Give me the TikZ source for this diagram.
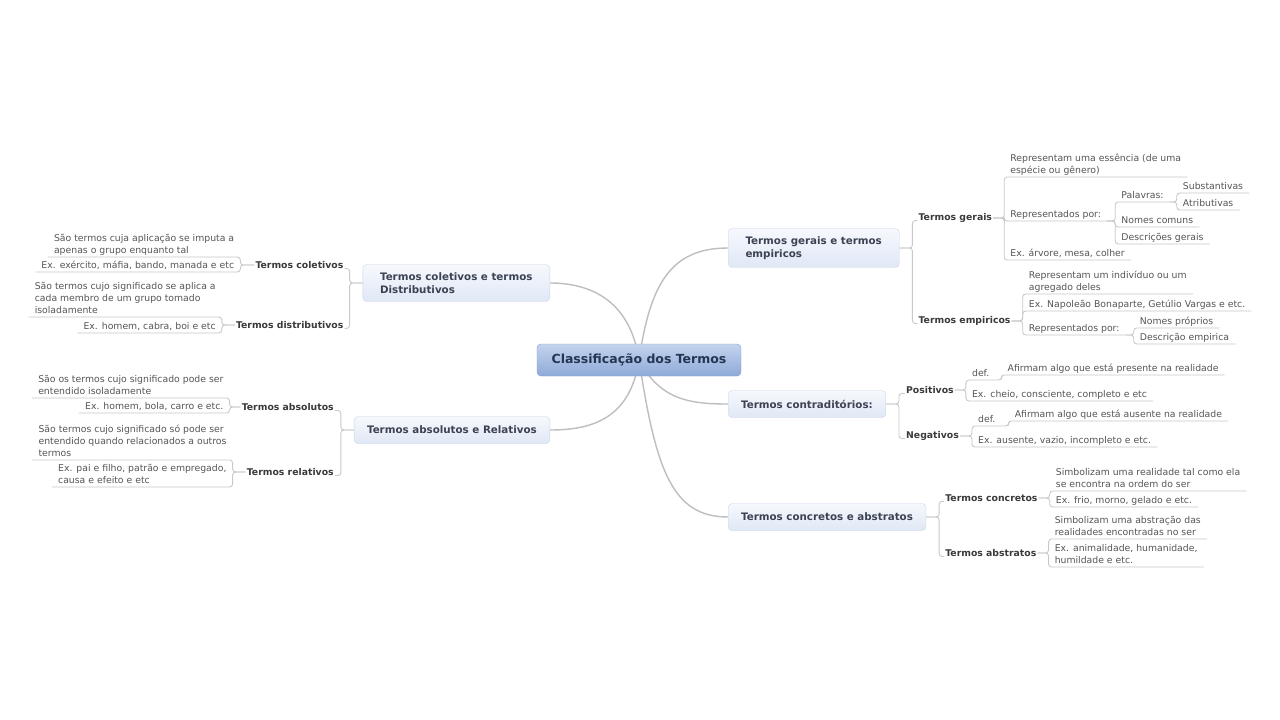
\documentclass[tikz,border=0pt]{standalone}
\usepackage{fontspec}
\setmainfont{DejaVu Sans}
\usepackage{tikz}
\usetikzlibrary{positioning, calc, backgrounds}
\definecolor{cvline}{HTML}{BEBEBE}
\definecolor{cnline}{HTML}{C9C9C9}
\definecolor{lftx}{HTML}{555555}
\definecolor{sbtx}{HTML}{3A3A3A}
\definecolor{mttx}{HTML}{3B4252}
\definecolor{mttop}{HTML}{F6F8FD}
\definecolor{mtbot}{HTML}{E0E8F6}
\definecolor{mtbd}{HTML}{C9D5EA}
\definecolor{roottop}{HTML}{C3D4EE}
\definecolor{rootbot}{HTML}{8EAAD8}
\definecolor{rootbd}{HTML}{86A0CC}
\definecolor{roottx}{HTML}{253552}
\newcommand{\rtfont}{\fontsize{12.5}{15}\selectfont\bfseries}
\newcommand{\mtfont}{\fontsize{10.3}{13}\selectfont\bfseries}
\newcommand{\sbfont}{\fontsize{9.3}{12}\selectfont\bfseries}
\newcommand{\lffont}{\fontsize{9.3}{12}\selectfont}
\tikzset{
  rootbox/.style={rectangle, rounded corners=4pt, draw=rootbd, top color=roottop, bottom color=rootbot, font=\rtfont, text=roottx, minimum width=204pt, minimum height=32pt},
  mt/.style ={rectangle, rounded corners=4pt, draw=mtbd, top color=mttop, bottom color=mtbot, font=\mtfont, text=mttx, align=left, inner xsep=13pt, inner ysep=8pt, minimum height=27pt},
  sb/.style ={font=\sbfont, text=sbtx, inner xsep=1pt, inner ysep=1pt},
  lf/.style ={font=\lffont, text=lftx, align=left, inner xsep=6pt, inner ysep=0pt, execute at end node=\strut},
  cv/.style ={draw=cvline, line width=1.4pt},
  cn/.style ={draw=cnline, line width=0.9pt, rounded corners=3pt},
}
\begin{document}
\begin{tikzpicture}[x=1pt, y=-1pt]
  \useasboundingbox (0,0) rectangle (1280,720);
  \node[rootbox] (root) at (639,360) {Classificação dos Termos};

  \node[mt, anchor=east, minimum width=187pt] (col) at (550,283) {Termos coletivos e termos\\Distributivos};
  \node[mt, anchor=east] (abs) at (550,430) {Termos absolutos e Relativos};
  \node[mt, anchor=west, minimum width=171pt] (ger) at (728,248) {Termos gerais e termos\\empiricos};
  \node[mt, anchor=west] (ctr) at (728,404) {Termos contraditórios:};
  \node[mt, anchor=west] (cnc) at (728,517) {Termos concretos e abstratos};

  \node[sb, anchor=east] (tcol) at ($(col.west)+(-18,-18)$) {Termos coletivos};
  \node[sb, anchor=east] (tdis) at ($(col.west)+(-18,42)$) {Termos distributivos};
  \node[sb, anchor=east] (tabs) at ($(abs.west)+(-19,-23)$) {Termos absolutos};
  \node[sb, anchor=east] (trel) at ($(abs.west)+(-19,42)$) {Termos relativos};
  \node[sb, anchor=west] (tger) at ($(ger.east)+(18,-30)$) {Termos gerais};
  \node[sb, anchor=west] (temp) at ($(ger.east)+(18,73)$) {Termos empiricos};
  \node[sb, anchor=west] (tpos) at ($(ctr.east)+(19,-14)$) {Positivos};
  \node[sb, anchor=west] (tneg) at ($(ctr.east)+(19,32)$) {Negativos};
  \node[sb, anchor=west] (tcon) at ($(cnc.east)+(18,-19)$) {Termos concretos};
  \node[sb, anchor=west] (tabt) at ($(cnc.east)+(18,36)$) {Termos abstratos};

  \node[lf, anchor=south east] (k1) at ($(tcol.west)+(-14,-8)$) {São termos cuja aplicação se imputa a\\apenas o grupo enquanto tal};
  \node[lf, anchor=south east] (k2) at ($(tcol.west)+(-14,7)$) {Ex. exército, máfia, bando, manada e etc};
  \node[lf, anchor=south east] (d1) at ($(tdis.west)+(-13,-8)$) {São termos cujo significado se aplica a\\cada membro de um grupo tomado\\isoladamente};
  \node[lf, anchor=south east] (d2) at ($(tdis.west)+(-13,8)$) {Ex. homem, cabra, boi e etc};
  \node[lf, anchor=south east] (b1) at ($(tabs.west)+(-11,-9)$) {São os termos cujo significado pode ser\\entendido isoladamente};
  \node[lf, anchor=south east] (b2) at ($(tabs.west)+(-11,6)$) {Ex. homem, bola, carro e etc.};
  \node[lf, anchor=south east] (r1) at ($(trel.west)+(-13,-12)$) {São termos cujo significado só pode ser\\entendido quando relacionados a outros\\termos};
  \node[lf, anchor=south east] (r2) at ($(trel.west)+(-13,15)$) {Ex. pai e filho, patrão e empregado,\\causa e efeito e etc};

  \node[lf, anchor=south west] (g1) at ($(tger.east)+(11,-41)$) {Representam uma essência (de uma\\espécie ou gênero)};
  \node[lf, anchor=south west] (g2) at ($(tger.east)+(11,3)$) {Representados por:};
  \node[lf, anchor=south west] (g3) at ($(tger.east)+(11,42)$) {Ex. árvore, mesa, colher};
  \node[lf, anchor=south west] (g21) at ($(g2.south east)+(8,-19)$) {Palavras:};
  \node[lf, anchor=south west] (g22) at ($(g2.south east)+(8,6)$) {Nomes comuns};
  \node[lf, anchor=south west] (g23) at ($(g2.south east)+(8,23)$) {Descrições gerais};
  \node[lf, anchor=south west] (g211) at ($(g21.south east)+(7,-9)$) {Substantivas};
  \node[lf, anchor=south west] (g212) at ($(g21.south east)+(7,8)$) {Atributivas};
  \node[lf, anchor=south west] (e1) at ($(temp.east)+(11,-27)$) {Representam um indivíduo ou um\\agregado deles};
  \node[lf, anchor=south west] (e2) at ($(temp.east)+(11,-10)$) {Ex. Napoleão Bonaparte, Getúlio Vargas e etc.};
  \node[lf, anchor=south west] (e3) at ($(temp.east)+(11,14)$) {Representados por:};
  \node[lf, anchor=south west] (e31) at ($(e3.south east)+(8,-7)$) {Nomes próprios};
  \node[lf, anchor=south west] (e32) at ($(e3.south east)+(8,9)$) {Descrição empirica};
  \node[lf, anchor=south west] (p1) at ($(tpos.east)+(11,-10)$) {def.};
  \node[lf, anchor=south west] (p11) at ($(p1.south east)+(6,-5)$) {Afirmam algo que está presente na realidade};
  \node[lf, anchor=south west] (p2) at ($(tpos.east)+(11,11)$) {Ex. cheio, consciente, completo e etc};
  \node[lf, anchor=south west] (n1) at ($(tneg.east)+(12,-10)$) {def.};
  \node[lf, anchor=south west] (n11) at ($(n1.south east)+(7,-5)$) {Afirmam algo que está ausente na realidade};
  \node[lf, anchor=south west] (n2) at ($(tneg.east)+(12,11)$) {Ex. ausente, vazio, incompleto e etc.};
  \node[lf, anchor=south west] (c1) at ($(tcon.east)+(11,-7)$) {Simbolizam uma realidade tal como ela\\se encontra na ordem do ser};
  \node[lf, anchor=south west] (c2) at ($(tcon.east)+(11,9)$) {Ex. frio, morno, gelado e etc.};
  \node[lf, anchor=south west] (a1) at ($(tabt.east)+(11,-14)$) {Simbolizam uma abstração das\\realidades encontradas no ser};
  \node[lf, anchor=south west] (a2) at ($(tabt.east)+(11,14)$) {Ex. animalidade, humanidade,\\humildade e etc.};

  \begin{scope}[on background layer]
    \fill[white] (0,0) rectangle (1280,720);
    \draw[cv] (root.center) .. controls (630,300) and (590,283) .. (col.east);
    \draw[cv] (root.center) .. controls (630,420) and (590,430) .. (abs.east);
    \draw[cv] (root.center) .. controls (650,285) and (670,248) .. (ger.west);
    \draw[cv] (root.center) .. controls (660,400) and (690,404) .. (ctr.west);
    \draw[cv] (root.center) .. controls (656,470) and (672,517) .. (cnc.west);
  \end{scope}

  \draw[cn] (col.west) -- ++(-13,0) |- (tcol.base east);
  \draw[cn] (col.west) -- ++(-13,0) |- (tdis.base east);
  \draw[cn] (abs.west) -- ++(-13,0) |- (tabs.base east);
  \draw[cn] (abs.west) -- ++(-13,0) |- (trel.base east);
  \draw[cn] (ger.east) -- ++(13,0) |- (tger.base west);
  \draw[cn] (ger.east) -- ++(13,0) |- (temp.base west);
  \draw[cn] (ctr.east) -- ++(13,0) |- (tpos.base west);
  \draw[cn] (ctr.east) -- ++(13,0) |- (tneg.base west);
  \draw[cn] (cnc.east) -- ++(13,0) |- (tcon.base west);
  \draw[cn] (cnc.east) -- ++(13,0) |- (tabt.base west);

  \draw[cn] (tcol.west) -- (k1.south east |- tcol.west) -- (k1.south east) -- (k1.south west);
  \draw[cn] (tcol.west) -- (k2.south east |- tcol.west) -- (k2.south east) -- (k2.south west);
  \draw[cn] (tdis.west) -- (d1.south east |- tdis.west) -- (d1.south east) -- (d1.south west);
  \draw[cn] (tdis.west) -- (d2.south east |- tdis.west) -- (d2.south east) -- (d2.south west);
  \draw[cn] (tabs.west) -- (b1.south east |- tabs.west) -- (b1.south east) -- (b1.south west);
  \draw[cn] (tabs.west) -- (b2.south east |- tabs.west) -- (b2.south east) -- (b2.south west);
  \draw[cn] (trel.west) -- (r1.south east |- trel.west) -- (r1.south east) -- (r1.south west);
  \draw[cn] (trel.west) -- (r2.south east |- trel.west) -- (r2.south east) -- (r2.south west);

  \draw[cn] (tger.east) -- (g1.south west |- tger.east) -- (g1.south west) -- (g1.south east);
  \draw[cn] (tger.east) -- (g2.south west |- tger.east) -- (g2.south west) -- (g2.south east);
  \draw[cn] (tger.east) -- (g3.south west |- tger.east) -- (g3.south west) -- (g3.south east);
  \draw[cn] (g2.south east) -- (g21.south west |- g2.south east) -- (g21.south west) -- (g21.south east);
  \draw[cn] (g2.south east) -- (g22.south west |- g2.south east) -- (g22.south west) -- (g22.south east);
  \draw[cn] (g2.south east) -- (g23.south west |- g2.south east) -- (g23.south west) -- (g23.south east);
  \draw[cn] (g21.south east) -- (g211.south west |- g21.south east) -- (g211.south west) -- (g211.south east);
  \draw[cn] (g21.south east) -- (g212.south west |- g21.south east) -- (g212.south west) -- (g212.south east);
  \draw[cn] (temp.east) -- (e1.south west |- temp.east) -- (e1.south west) -- (e1.south east);
  \draw[cn] (temp.east) -- (e2.south west |- temp.east) -- (e2.south west) -- (e2.south east);
  \draw[cn] (temp.east) -- (e3.south west |- temp.east) -- (e3.south west) -- (e3.south east);
  \draw[cn] (e3.south east) -- (e31.south west |- e3.south east) -- (e31.south west) -- (e31.south east);
  \draw[cn] (e3.south east) -- (e32.south west |- e3.south east) -- (e32.south west) -- (e32.south east);
  \draw[cn] (tpos.east) -- (p1.south west |- tpos.east) -- (p1.south west) -- (p1.south east);
  \draw[cn] (p1.south east) -- (p11.south west |- p1.south east) -- (p11.south west) -- (p11.south east);
  \draw[cn] (tpos.east) -- (p2.south west |- tpos.east) -- (p2.south west) -- (p2.south east);
  \draw[cn] (tneg.east) -- (n1.south west |- tneg.east) -- (n1.south west) -- (n1.south east);
  \draw[cn] (n1.south east) -- (n11.south west |- n1.south east) -- (n11.south west) -- (n11.south east);
  \draw[cn] (tneg.east) -- (n2.south west |- tneg.east) -- (n2.south west) -- (n2.south east);
  \draw[cn] (tcon.east) -- (c1.south west |- tcon.east) -- (c1.south west) -- (c1.south east);
  \draw[cn] (tcon.east) -- (c2.south west |- tcon.east) -- (c2.south west) -- (c2.south east);
  \draw[cn] (tabt.east) -- (a1.south west |- tabt.east) -- (a1.south west) -- (a1.south east);
  \draw[cn] (tabt.east) -- (a2.south west |- tabt.east) -- (a2.south west) -- (a2.south east);
\end{tikzpicture}
\end{document}
